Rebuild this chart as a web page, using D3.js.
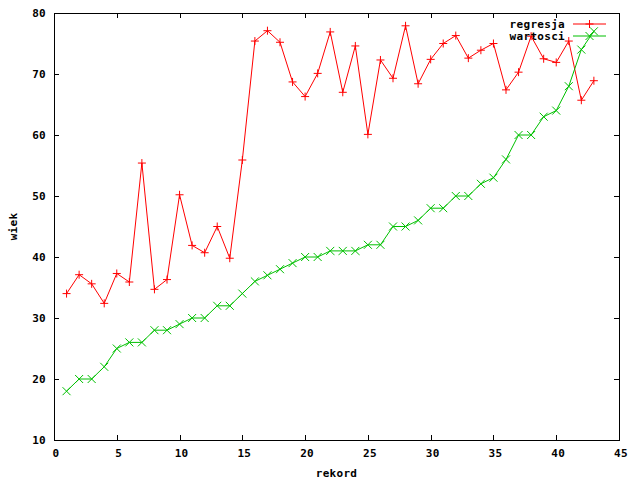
<!DOCTYPE html>
<html>
<head>
<meta charset="utf-8">
<script src="https://cdn.jsdelivr.net/npm/d3@7"></script>
<style>
  body { margin: 0; background: #fff; }
  text { font-family: "DejaVu Sans Mono", monospace; font-weight: bold; font-size: 11px; letter-spacing: 0.3px; fill: #000; }
</style>
</head>
<body>
<div id="chart"></div>
<script>
'use strict';

// values
var rekord = d3.range(1, 44);
var regresja = [34, 37.1, 35.6, 32.4, 37.3, 35.9, 55.4, 34.7, 36.3, 50.2,
  41.9, 40.7, 45, 39.8, 55.9, 75.4, 77.1, 75.2, 68.7, 66.3,
  70.1, 76.9, 67, 74.6, 60.1, 72.3, 69.3, 77.9, 68.4, 72.4,
  75, 76.3, 72.6, 73.9, 75, 67.4, 70.3, 76.2, 72.5, 71.9,
  75.4, 65.7, 68.9];
var wartosci = [18, 20, 20, 22, 25, 26, 26, 28, 28, 29,
  30, 30, 32, 32, 34, 36, 37, 38, 39, 40,
  40, 41, 41, 41, 42, 42, 45, 45, 46, 48,
  48, 50, 50, 52, 53, 56, 60, 60, 63, 64,
  68, 74, 77];
var xTicks = [0, 5, 10, 15, 20, 25, 30, 35, 40, 45];
var yTicks = [10, 20, 30, 40, 50, 60, 70, 80];
var seriesNames = ['regresja', 'wartosci'];

var width = 640, height = 480,
  margin = {left: 54, right: 21, top: 13, bottom: 40},
  tickLen = 5;

var svg = d3.select('#chart').append('svg')
  .attr('width', width)
  .attr('height', height);

var x = d3.scaleLinear().domain([0, 45]).range([margin.left, width - margin.right]);
var y = d3.scaleLinear().domain([10, 80]).range([height - margin.bottom, margin.top]);

var frame = svg.append('g').attr('shape-rendering', 'crispEdges');

frame.append('rect')
  .attr('x', x(0) + 0.5).attr('y', y(80) + 0.5)
  .attr('width', x(45) - x(0)).attr('height', y(10) - y(80))
  .attr('fill', 'none').attr('stroke', '#000');

// ticks point inwards and are mirrored on the opposite side
xTicks.forEach(function(t) {
  var px = Math.round(x(t)) + 0.5;
  frame.append('line').attr('x1', px).attr('x2', px)
    .attr('y1', y(10)).attr('y2', y(10) - tickLen).attr('stroke', '#000');
  frame.append('line').attr('x1', px).attr('x2', px)
    .attr('y1', y(80)).attr('y2', y(80) + tickLen).attr('stroke', '#000');
  svg.append('text').attr('x', x(t) + 2).attr('y', y(10) + 17)
    .attr('text-anchor', 'middle').text(t);
});

yTicks.forEach(function(t) {
  var py = Math.round(y(t)) + 0.5;
  frame.append('line').attr('x1', x(0)).attr('x2', x(0) + tickLen)
    .attr('y1', py).attr('y2', py).attr('stroke', '#000');
  frame.append('line').attr('x1', x(45)).attr('x2', x(45) - tickLen)
    .attr('y1', py).attr('y2', py).attr('stroke', '#000');
  svg.append('text').attr('x', x(0) - 8).attr('y', y(t) + 4)
    .attr('text-anchor', 'end').text(t);
});

svg.append('text')
  .attr('transform', 'translate(17,' + ((y(10) + y(80)) / 2) + ') rotate(-90)')
  .attr('text-anchor', 'middle').text('wiek');
svg.append('text')
  .attr('x', (x(0) + x(45)) / 2).attr('y', 477)
  .attr('text-anchor', 'middle').text('rekord');

var colors = ['#ff0000', '#00c000'];
var data = [regresja, wartosci];
var line = d3.line()
  .x(function(d, i) { return x(rekord[i]); })
  .y(function(d) { return y(d); });

function marker(g, kind, cx, cy, color) {
  var s = 4;
  if (kind === 0) {
    g.append('path').attr('d', 'M' + (cx - s) + ',' + cy + 'H' + (cx + s) + 'M' + cx + ',' + (cy - s) + 'V' + (cy + s))
      .attr('stroke', color).attr('fill', 'none');
  } else {
    g.append('path').attr('d', 'M' + (cx - s) + ',' + (cy - s) + 'L' + (cx + s) + ',' + (cy + s) + 'M' + (cx - s) + ',' + (cy + s) + 'L' + (cx + s) + ',' + (cy - s))
      .attr('stroke', color).attr('fill', 'none');
  }
}

data.forEach(function(vals, k) {
  var g = svg.append('g');
  g.append('path').datum(vals)
    .attr('d', line)
    .attr('fill', 'none')
    .attr('stroke', colors[k])
    .attr('stroke-width', 1);
  vals.forEach(function(v, i) {
    marker(g, k, x(rekord[i]), y(v), colors[k]);
  });
});

// legend
seriesNames.forEach(function(name, k) {
  var ly = 24 + k * 12;
  svg.append('text').attr('x', 565).attr('y', ly + 4)
    .attr('text-anchor', 'end').text(name);
  svg.append('line').attr('x1', 573).attr('x2', 606)
    .attr('y1', ly).attr('y2', ly)
    .attr('stroke', colors[k]).attr('stroke-width', 1.2);
  marker(svg, k, 589.5, ly, colors[k]);
});
</script>
</body>
</html>
